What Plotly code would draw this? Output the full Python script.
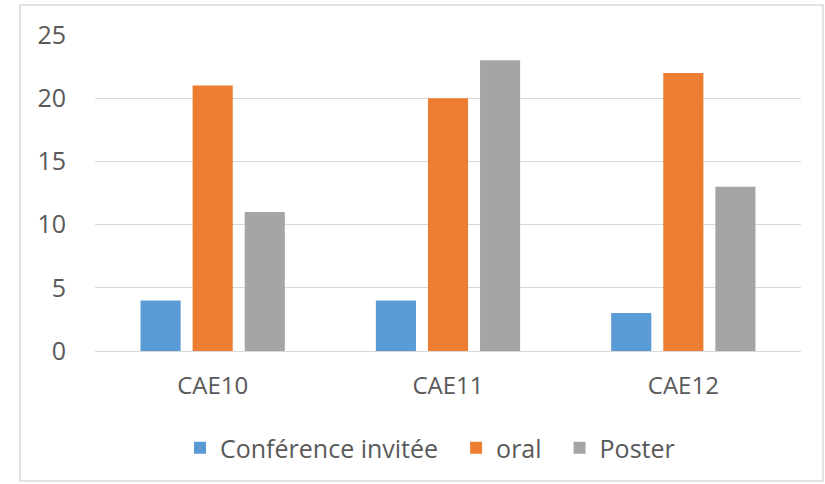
import plotly.graph_objects as go

categories = ["CAE10", "CAE11", "CAE12"]
conference_invitee = [4, 4, 3]
oral = [21, 20, 22]
poster = [11, 23, 13]
y_ticks = [0, 5, 10, 15, 20, 25]

W, H = 825, 484
L, R, T, B = 95, 24, 35, 133
pw, ph = W - L - R, H - T - B


def px_x(x):
    return (x - L) / pw


def px_y(y):
    return (H - B - y) / ph


FONT = "Open Sans"
TXT = "#595959"
PAD = "\u00a0\u00a0"  # extra room between legend entries

fig = go.Figure()
fig.add_trace(go.Bar(x=categories, y=conference_invitee, name="Conférence invitée" + PAD,
                     marker=dict(color="#5B9BD5", line=dict(width=0))))
fig.add_trace(go.Bar(x=categories, y=oral, name="oral" + PAD,
                     marker=dict(color="#ED7D31", line=dict(width=0))))
fig.add_trace(go.Bar(x=categories, y=poster, name="Poster",
                     marker=dict(color="#A5A5A5", line=dict(width=0))))

# outer chart frame
fig.add_shape(type="rect", xref="paper", yref="paper",
              x0=px_x(20), x1=px_x(823), y0=px_y(481), y1=px_y(5),
              line=dict(color="#D9D9D9", width=1.5), fillcolor="rgba(0,0,0,0)",
              layer="below")

fig.update_layout(
    width=W, height=H,
    margin=dict(l=L, r=R, t=T, b=B),
    paper_bgcolor="white", plot_bgcolor="white",
    barmode="group", bargap=0.336, bargroupgap=0.23,
    font=dict(family=FONT, size=24, color=TXT),
    showlegend=True,
    legend=dict(orientation="h", x=px_x(430), xanchor="center",
                y=px_y(448), yanchor="middle",
                font=dict(family=FONT, size=25, color=TXT),
                itemwidth=30, traceorder="normal"),
    xaxis=dict(showgrid=False, showline=False, ticks="", ticklabelstandoff=18,
               tickfont=dict(family=FONT, size=24, color=TXT)),
    yaxis=dict(range=[0, 25], tickvals=y_ticks, showgrid=True,
               gridcolor="#D9D9D9", gridwidth=1, zeroline=True,
               zerolinecolor="#D9D9D9", zerolinewidth=1, showline=False,
               ticks="", ticklabelstandoff=28,
               tickfont=dict(family=FONT, size=25, color=TXT)),
)

fig.write_html("out.html")
